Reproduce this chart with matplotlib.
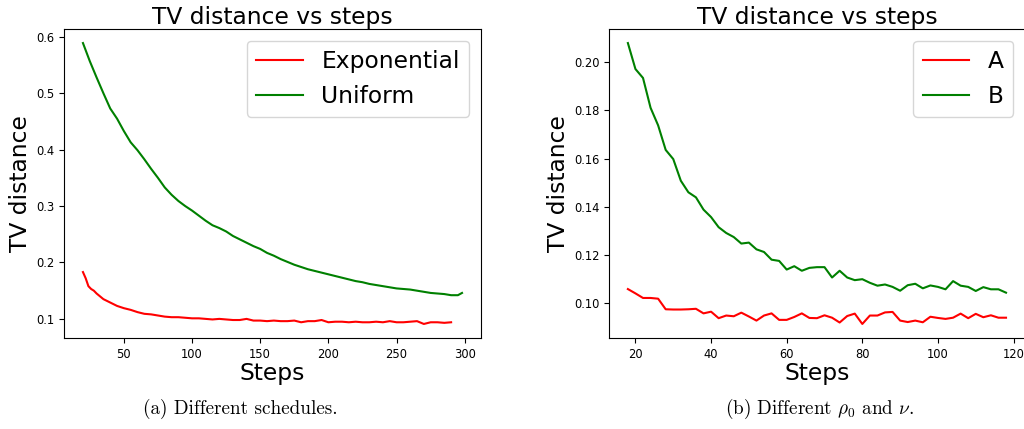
import matplotlib
matplotlib.use("Agg")
import matplotlib.pyplot as plt

plt.rcParams['mathtext.fontset'] = 'cm'

# (a) different schedules
steps_exp = [20, 22, 24, 26, 28, 30, 35, 40, 45, 50, 55, 60, 65, 70, 75, 80, 85, 90, 95,
             100, 105, 110, 115, 120, 125, 130, 135, 140, 145, 150, 155, 160, 165, 170,
             175, 180, 185, 190, 195, 200, 205, 210, 215, 220, 225, 230, 235, 240, 245,
             250, 255, 260, 265, 270, 275, 280, 285, 290]
tv_exp = [0.183, 0.172, 0.158, 0.153, 0.150, 0.145, 0.135, 0.129, 0.123, 0.119, 0.116,
          0.112, 0.109, 0.108, 0.106, 0.104, 0.103, 0.103, 0.102, 0.101, 0.101, 0.100,
          0.099, 0.100, 0.099, 0.098, 0.098, 0.100, 0.097, 0.097, 0.096, 0.097, 0.096,
          0.096, 0.097, 0.094, 0.096, 0.096, 0.098, 0.094, 0.095, 0.095, 0.094, 0.095,
          0.094, 0.094, 0.095, 0.094, 0.096, 0.094, 0.094, 0.095, 0.096, 0.091, 0.094,
          0.094, 0.093, 0.094]

steps_uni = [20, 25, 30, 35, 40, 45, 50, 55, 60, 65, 70, 75, 80, 85, 90, 95, 100, 105,
             110, 115, 120, 125, 130, 135, 140, 145, 150, 155, 160, 165, 170, 175, 180,
             185, 190, 195, 200, 205, 210, 215, 220, 225, 230, 235, 240, 245, 250, 255,
             260, 265, 270, 275, 280, 285, 290, 295, 298]
tv_uni = [0.589, 0.557, 0.528, 0.500, 0.473, 0.455, 0.433, 0.413, 0.399, 0.383, 0.366,
          0.350, 0.333, 0.320, 0.309, 0.300, 0.292, 0.283, 0.274, 0.266, 0.261, 0.255,
          0.247, 0.241, 0.235, 0.229, 0.224, 0.217, 0.212, 0.206, 0.201, 0.196, 0.192,
          0.188, 0.185, 0.182, 0.179, 0.176, 0.173, 0.170, 0.167, 0.165, 0.162, 0.160,
          0.158, 0.156, 0.154, 0.153, 0.152, 0.150, 0.148, 0.146, 0.145, 0.144, 0.142,
          0.142, 0.146]

# (b) different rho_0 and nu
steps_b = list(range(18, 119, 2))
tv_a = [0.1058, 0.1040, 0.1021, 0.1021, 0.1018, 0.0974, 0.0973, 0.0973, 0.0974, 0.0976,
        0.0957, 0.0964, 0.0937, 0.0948, 0.0945, 0.0960, 0.0944, 0.0927, 0.0948, 0.0957,
        0.0930, 0.0930, 0.0942, 0.0957, 0.0938, 0.0937, 0.0949, 0.0939, 0.0919, 0.0946,
        0.0956, 0.0913, 0.0948, 0.0948, 0.0961, 0.0963, 0.0927, 0.0921, 0.0927, 0.0920,
        0.0943, 0.0938, 0.0934, 0.0939, 0.0956, 0.0937, 0.0955, 0.0941, 0.0949, 0.0939,
        0.0939]
tv_b = [0.2080, 0.1972, 0.1935, 0.1811, 0.1738, 0.1636, 0.1598, 0.1508, 0.1460, 0.1439,
        0.1388, 0.1357, 0.1315, 0.1291, 0.1274, 0.1247, 0.1251, 0.1223, 0.1212, 0.1180,
        0.1175, 0.1139, 0.1153, 0.1134, 0.1146, 0.1149, 0.1149, 0.1106, 0.1134, 0.1106,
        0.1095, 0.1099, 0.1084, 0.1072, 0.1077, 0.1067, 0.1051, 0.1074, 0.1080, 0.1061,
        0.1073, 0.1067, 0.1057, 0.1091, 0.1072, 0.1067, 0.1050, 0.1066, 0.1057, 0.1057,
        0.1043]

fig = plt.figure(figsize=(10.24, 4.29), dpi=100)
ax1 = fig.add_axes([0.0625, 0.2121, 0.4072, 0.7203])
ax2 = fig.add_axes([0.5947, 0.2121, 0.4062, 0.7203])

ax1.plot(steps_exp, tv_exp, color='red', label='Exponential')
ax1.plot(steps_uni, tv_uni, color='green', label='Uniform')
ax2.plot(steps_b, tv_a, color='red', label='A')
ax2.plot(steps_b, tv_b, color='green', label='B')

ax1.set_yticks([0.1, 0.2, 0.3, 0.4, 0.5, 0.6])
ax1.set_xticks([50, 100, 150, 200, 250, 300])
ax2.set_xticks([20, 40, 60, 80, 100, 120])
ax2.set_yticks([0.10, 0.12, 0.14, 0.16, 0.18, 0.20])

for ax in (ax1, ax2):
    ax.set_title('TV distance vs steps', fontsize=16.8, pad=3)
    ax.set_xlabel('Steps', fontsize=16.8, labelpad=1)
    ax.set_ylabel('TV distance', fontsize=16.8, labelpad=3)
    ax.tick_params(labelsize=8.3)
    ax.legend(loc='upper right', fontsize=16.8)

fig.text(0.235, 0.035, '(a) Different schedules.', family='cmr10', fontsize=13.8,
         ha='center', va='baseline')
fig.text(0.80, 0.035, r'(b) Different $\rho_0$ and $\nu$.', family='cmr10', fontsize=13.8,
         ha='center', va='baseline')

fig.savefig('out.png', dpi=100)
